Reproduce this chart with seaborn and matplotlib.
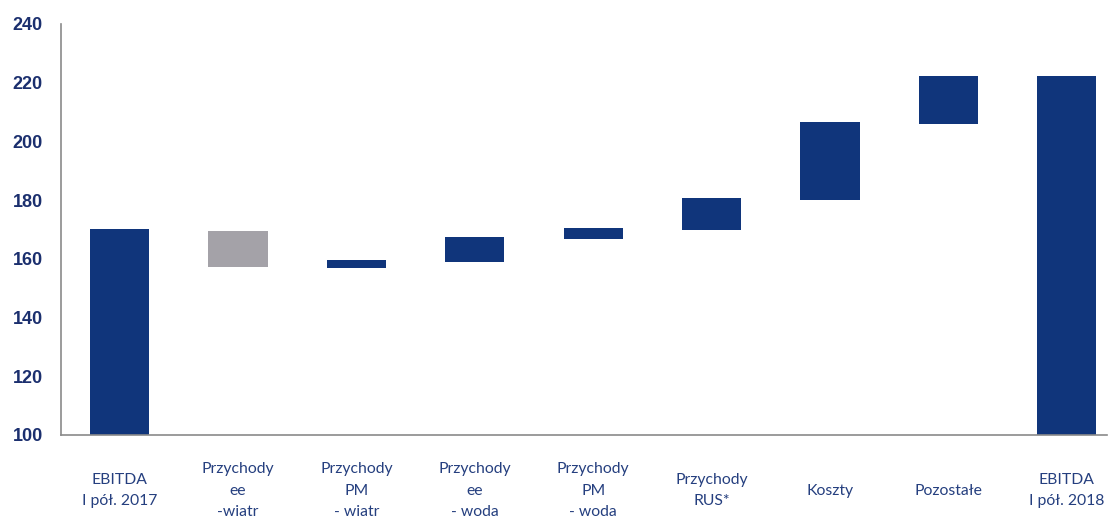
import matplotlib
matplotlib.use("Agg")
import matplotlib.pyplot as plt
import seaborn as sns
import pandas as pd

# Waterfall steps: lower and upper edge of each floating bar (mln zł)
categories = [
    "EBITDA\nI pół. 2017",
    "Przychody\nee\n-wiatr",
    "Przychody\nPM\n- wiatr",
    "Przychody\nee\n- woda",
    "Przychody\nPM\n- woda",
    "Przychody\nRUS*",
    "Koszty",
    "Pozostałe",
    "EBITDA\nI pół. 2018",
]
bar_low = [100.0, 157.1, 157.0, 158.9, 166.8, 169.8, 180.1, 205.8, 100.0]
bar_high = [170.1, 169.6, 159.6, 167.6, 170.4, 180.8, 206.5, 222.3, 222.3]
direction = ["total", "down", "up", "up", "up", "up", "up", "up", "total"]
y_ticks = [100, 120, 140, 160, 180, 200, 220, 240]

NAVY = "#10357b"
GREY = "#a4a2a8"
TICK_BLUE = "#1b2f6e"
LABEL_BLUE = "#253f7f"
AXIS_GREY = "#8a8a8a"

df = pd.DataFrame({
    "category": categories,
    "low": bar_low,
    "high": bar_high,
    "kind": direction,
})
df["height"] = df["high"] - df["low"]

sns.set_style("white")

fig = plt.figure(figsize=(11.1, 5.27), dpi=100)
ax = fig.add_axes([0.055, 0.1746, 0.942, 0.78])

sns.barplot(
    data=df, x="category", y="height", color=NAVY, saturation=1,
    bottom=df["low"].to_numpy(), width=0.5,
    edgecolor="none", linewidth=0, ax=ax,
)
# decreases in grey, everything else navy
colour_of = {"total": NAVY, "up": NAVY, "down": GREY}
for patch, kind in zip(ax.patches, df["kind"]):
    patch.set_facecolor(colour_of[kind])

ax.set_ylim(100, 240)
ax.set_xlim(-0.494, 8.336)
ax.set_yticks(y_ticks)
ax.set_yticklabels([str(v) for v in y_ticks], fontsize=13,
                   fontweight="bold", color=TICK_BLUE,
                   family="Liberation Sans")
ax.set_xticks(range(len(categories)))
ax.set_xticklabels(categories, fontsize=11.3, color=LABEL_BLUE,
                   family="Lato", linespacing=1.68, va="center")

ax.tick_params(axis="y", direction="in", length=5, width=1,
               color=AXIS_GREY, pad=13)
ax.tick_params(axis="x", length=0, pad=40)

for side in ("top", "right"):
    ax.spines[side].set_visible(False)
for side in ("left", "bottom"):
    ax.spines[side].set_color(AXIS_GREY)
    ax.spines[side].set_linewidth(1.2)

ax.set_xlabel("")
ax.set_ylabel("")

fig.savefig("out.png", dpi=100, facecolor="white")
